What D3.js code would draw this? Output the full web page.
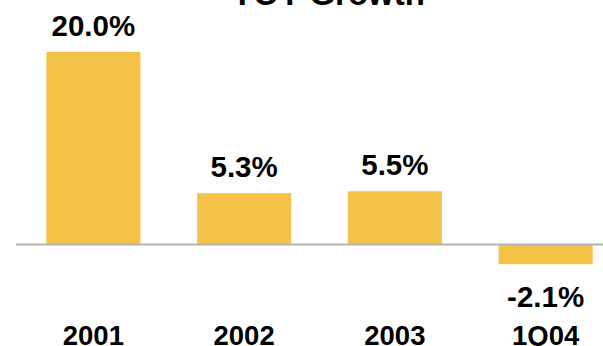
<!DOCTYPE html>
<html>
<head>
<meta charset="utf-8">
<script src="https://cdn.jsdelivr.net/npm/d3@7"></script>
<style>
  html, body { margin: 0; padding: 0; background: #fff; }
  svg { display: block; }
  text { font-family: "Liberation Sans", Arial, sans-serif; font-weight: bold; fill: #000; }
</style>
</head>
<body>
<svg id="chart" width="603" height="346"></svg>
<script>
// YOY growth by period
const categories = ["2001", "2002", "2003", "1Q04"];
const growth = [20.0, 5.3, 5.5, -2.1];
const valueLabels = ["20.0%", "5.3%", "5.5%", "-2.1%"];
const title = "YOY Growth";

const W = 603, H = 346;
const svg = d3.select("#chart");

const x = d3.scaleBand()
  .domain(categories)
  .range([18, 621])
  .paddingInner(0.376)
  .paddingOuter(0.188);

const y = d3.scaleLinear()
  .domain([-2.1, 20])
  .range([264.2, 52]);

// title (partly above the top edge)
svg.append("text")
  .attr("x", 328)
  .attr("y", 5)
  .attr("text-anchor", "middle")
  .style("font-size", "33px")
  .text(title);

// bars
svg.selectAll("rect.bar")
  .data(growth)
  .join("rect")
  .attr("class", "bar")
  .attr("x", (d, i) => x(categories[i]))
  .attr("width", x.bandwidth())
  .attr("y", d => y(Math.max(0, d)))
  .attr("height", d => Math.abs(y(d) - y(0)))
  .attr("fill", "#F4C246");

// zero line
svg.append("line")
  .attr("x1", 16)
  .attr("x2", W)
  .attr("y1", y(0) + 0.5)
  .attr("y2", y(0) + 0.5)
  .attr("stroke", "#b4b4b4")
  .attr("stroke-width", 2);

// value labels
svg.selectAll("text.val")
  .data(growth)
  .join("text")
  .attr("class", "val")
  .attr("x", (d, i) => x(categories[i]) + x.bandwidth() / 2)
  .attr("y", d => d >= 0 ? y(d) - 16 : y(d) + 43)
  .attr("text-anchor", "middle")
  .style("font-size", "29.5px")
  .text((d, i) => valueLabels[i]);

// category labels
const xAxis = svg.append("g")
  .attr("transform", `translate(0,${H - 1})`)
  .call(d3.axisBottom(x).tickSize(0).tickPadding(0));
xAxis.select(".domain").remove();
xAxis.selectAll("text")
  .attr("y", 0)
  .attr("dy", 0)
  .style("font-size", "27.5px")
  .style("font-family", "\"Liberation Sans\", Arial, sans-serif")
  .style("font-weight", "bold")
  .attr("fill", "#000");
</script>
</body>
</html>
